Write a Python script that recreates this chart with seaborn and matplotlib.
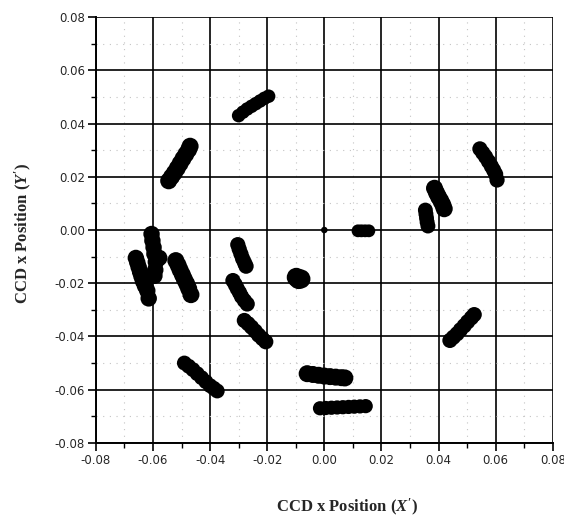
import matplotlib
matplotlib.use("Agg")
import matplotlib.pyplot as plt
import seaborn as sns
import pandas as pd
from matplotlib.ticker import MultipleLocator, FixedLocator

# ---- data (each cluster of spots) ----
cluster_a_x = [-0.0300, -0.0285, -0.0270, -0.0255, -0.0240, -0.0225, -0.0210, -0.0195]
cluster_a_y = [0.0430, 0.0443, 0.0455, 0.0465, 0.0475, 0.0485, 0.0495, 0.0503]
cluster_b_x = [-0.0545, -0.0535, -0.0525, -0.0515, -0.0505, -0.0495, -0.0485, -0.0475, -0.0470]
cluster_b_y = [0.0185, 0.0200, 0.0215, 0.0232, 0.0250, 0.0268, 0.0285, 0.0302, 0.0315]
cluster_c_x = [-0.0605, -0.0602, -0.0598, -0.0595, -0.0590, -0.0578, -0.0592, -0.0595]
cluster_c_y = [-0.0015, -0.0040, -0.0065, -0.0090, -0.0120, -0.0105, -0.0150, -0.0172]
cluster_d_x = [-0.0660, -0.0655, -0.0650, -0.0645, -0.0640, -0.0635, -0.0628, -0.0620, -0.0615]
cluster_d_y = [-0.0105, -0.0122, -0.0140, -0.0158, -0.0175, -0.0192, -0.0210, -0.0228, -0.0257]
cluster_e_x = [-0.0520, -0.0512, -0.0505, -0.0497, -0.0490, -0.0482, -0.0475, -0.0467]
cluster_e_y = [-0.0115, -0.0132, -0.0150, -0.0168, -0.0185, -0.0202, -0.0220, -0.0243]
cluster_f_x = [-0.0303, -0.0298, -0.0292, -0.0286, -0.0279, -0.0274]
cluster_f_y = [-0.0055, -0.0072, -0.0090, -0.0108, -0.0124, -0.0136]
cluster_g_x = [-0.0320, -0.0312, -0.0305, -0.0297, -0.0290, -0.0280, -0.0270]
cluster_g_y = [-0.0190, -0.0205, -0.0220, -0.0235, -0.0250, -0.0265, -0.0278]
cluster_h_x = [-0.0280, -0.0267, -0.0255, -0.0242, -0.0230, -0.0217, -0.0205]
cluster_h_y = [-0.0340, -0.0352, -0.0365, -0.0380, -0.0395, -0.0408, -0.0420]
cluster_i_x = [-0.0098, -0.0090, -0.0082]
cluster_i_y = [-0.0178, -0.0186, -0.0184]
cluster_j_x = [-0.0490, -0.0475, -0.0460, -0.0445, -0.0430, -0.0415, -0.0400, -0.0387, -0.0375]
cluster_j_y = [-0.0500, -0.0512, -0.0525, -0.0540, -0.0555, -0.0570, -0.0585, -0.0595, -0.0605]
cluster_k_x = [-0.0060, -0.0040, -0.0020, -0.0000, 0.0020, 0.0040, 0.0060, 0.0072]
cluster_k_y = [-0.0540, -0.0543, -0.0546, -0.0549, -0.0551, -0.0553, -0.0555, -0.0556]
cluster_l_x = [-0.0015, 0.0005, 0.0025, 0.0045, 0.0065, 0.0085, 0.0105, 0.0125, 0.0145]
cluster_l_y = [-0.0670, -0.0669, -0.0668, -0.0667, -0.0666, -0.0665, -0.0664, -0.0663, -0.0662]
cluster_o_dot_x = [0.0000]
cluster_o_dot_y = [0.0000]
cluster_m_x = [0.0118, 0.0130, 0.0143, 0.0156]
cluster_m_y = [-0.0003, -0.0003, -0.0003, -0.0003]
cluster_n_x = [0.0354, 0.0356, 0.0358, 0.0360, 0.0363]
cluster_n_y = [0.0075, 0.0060, 0.0045, 0.0030, 0.0015]
cluster_p_x = [0.0386, 0.0393, 0.0400, 0.0408, 0.0415, 0.0420]
cluster_p_y = [0.0157, 0.0140, 0.0125, 0.0110, 0.0095, 0.0080]
cluster_q_x = [0.0545, 0.0555, 0.0565, 0.0575, 0.0585, 0.0593, 0.0600, 0.0605]
cluster_q_y = [0.0305, 0.0290, 0.0275, 0.0258, 0.0240, 0.0225, 0.0210, 0.0188]
cluster_r_x = [0.0440, 0.0452, 0.0465, 0.0477, 0.0490, 0.0502, 0.0515, 0.0525]
cluster_r_y = [-0.0415, -0.0403, -0.0390, -0.0375, -0.0360, -0.0345, -0.0330, -0.0318]

tick_values = [-0.08, -0.06, -0.04, -0.02, 0.00, 0.02, 0.04, 0.06, 0.08]
tick_labels = ["-0.08", "-0.06", "-0.04", "-0.02", "0.00", "0.02", "0.04", "0.06", "0.08"]
x_label = r"CCD x Position ($X'$)"
y_label = r"CCD x Position ($Y'$)"

clusters = {
    "A": (cluster_a_x, cluster_a_y), "B": (cluster_b_x, cluster_b_y),
    "C": (cluster_c_x, cluster_c_y), "D": (cluster_d_x, cluster_d_y),
    "E": (cluster_e_x, cluster_e_y), "F": (cluster_f_x, cluster_f_y),
    "G": (cluster_g_x, cluster_g_y), "H": (cluster_h_x, cluster_h_y),
    "I": (cluster_i_x, cluster_i_y), "J": (cluster_j_x, cluster_j_y),
    "K": (cluster_k_x, cluster_k_y), "L": (cluster_l_x, cluster_l_y),
    "O": (cluster_o_dot_x, cluster_o_dot_y), "M": (cluster_m_x, cluster_m_y),
    "N": (cluster_n_x, cluster_n_y), "P": (cluster_p_x, cluster_p_y),
    "Q": (cluster_q_x, cluster_q_y), "R": (cluster_r_x, cluster_r_y),
}
rows = []
for name, (xs, ys) in clusters.items():
    for xv, yv in zip(xs, ys):
        rows.append({"cluster": name, "x": xv, "y": yv})
df = pd.DataFrame(rows)

# marker area (pt^2) per cluster -- styling only
marker_area = {"A": 95, "B": 150, "C": 140, "D": 140, "E": 150, "F": 120,
               "G": 120, "H": 120, "I": 190, "J": 115, "K": 150, "L": 105,
               "O": 22, "M": 85, "N": 115, "P": 150, "Q": 120, "R": 120}

sns.set_style("white")
plt.rcParams["mathtext.fontset"] = "custom"
plt.rcParams["mathtext.it"] = "Liberation Serif:italic:bold"
plt.rcParams["mathtext.rm"] = "Liberation Serif:bold"

fig = plt.figure(figsize=(5.64, 5.21), dpi=100)
ax = fig.add_axes([0.170, 0.150, 0.810, 0.817])

df["s"] = df["cluster"].map(marker_area)
sns.scatterplot(data=df, x="x", y="y", size="s",
                sizes=(df["s"].min(), df["s"].max()), size_norm=(df["s"].min(), df["s"].max()),
                color="black", edgecolor="black", linewidth=0, legend=False, ax=ax, zorder=3)

ax.set_xlim(-0.08, 0.08)
ax.set_ylim(-0.08, 0.08)
ax.xaxis.set_major_locator(FixedLocator(tick_values))
ax.yaxis.set_major_locator(FixedLocator(tick_values))
ax.set_xticklabels(tick_labels)
ax.set_yticklabels(tick_labels)
ax.xaxis.set_minor_locator(MultipleLocator(0.01))
ax.yaxis.set_minor_locator(MultipleLocator(0.01))

ax.grid(which="major", color="black", linewidth=1.2, linestyle="-", zorder=1)
ax.grid(which="minor", color="#c4c4c4", linewidth=0.8, linestyle=(0, (1, 5)), zorder=1)
ax.set_axisbelow(True)

for side in ["top", "right"]:
    ax.spines[side].set_visible(False)
for side in ["left", "bottom"]:
    ax.spines[side].set_color("black")
    ax.spines[side].set_linewidth(1.4)

ax.tick_params(which="major", direction="out", length=6, width=1.2, color="black",
               labelsize=8.5, bottom=True, left=True, pad=2)
ax.tick_params(which="minor", direction="out", length=3.5, width=1.0, color="black",
               bottom=True, left=True)

ax.set_xlabel(x_label, fontsize=12, fontweight="bold", family="Liberation Serif")
ax.set_ylabel(y_label, fontsize=12, fontweight="bold", family="Liberation Serif")
ax.xaxis.set_label_coords(0.549, -0.128)
ax.yaxis.set_label_coords(-0.135, 0.493)

fig.savefig("out.png", dpi=100)
